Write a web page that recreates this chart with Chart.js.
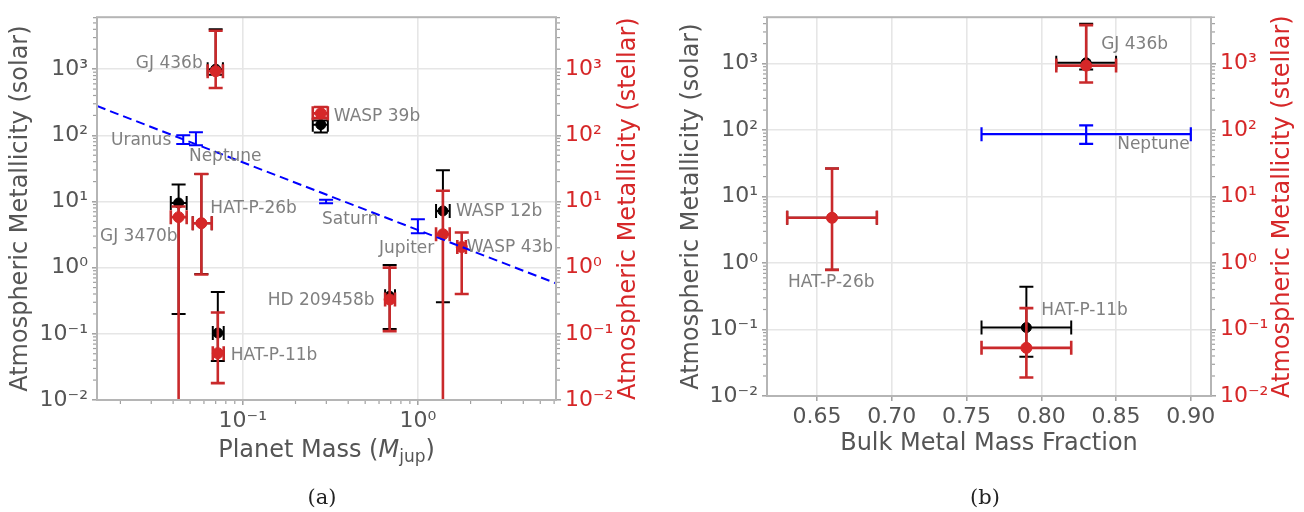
<!DOCTYPE html>
<html>
<head>
<meta charset="utf-8">
<script src="https://cdn.jsdelivr.net/npm/chart.js@4.4.0/dist/chart.umd.min.js"></script>
<style>
  html, body { margin: 0; padding: 0; background: #fff; }
  #wrap { position: relative; width: 1304px; height: 512px; }
  canvas { position: absolute; top: 0; }
  #chartA { left: 0; }
  #chartB { left: 652px; }
</style>
</head>
<body>
<div id="wrap">
  <canvas id="chartA" width="652" height="512"></canvas>
  <canvas id="chartB" width="652" height="512"></canvas>
</div>
<script>
// ---- panel (a): planet mass vs atmospheric metallicity ----
var planets     = ['GJ 436b', 'WASP 39b', 'WASP 12b', 'WASP 43b', 'HD 209458b', 'HAT-P-11b', 'GJ 3470b', 'HAT-P-26b'];
var mass        = [0.070, 0.279, 1.39, 1.78, 0.69, 0.072, 0.043, 0.058];
var massLow     = [0.063, 0.251, 1.27, 1.68, 0.65, 0.0674, 0.0388, 0.0518];
var massHigh    = [0.077, 0.306, 1.52, 1.88, 0.74, 0.0778, 0.0478, 0.0665];
var solarZ      = [1000, 145, 7.2, null, 0.37, 0.103, 9.5, 4.7];
var solarLow    = [820, 110, 0.3, null, 0.118, 0.039, 0.2, 0.8];
var solarHigh   = [4000, 168, 29.6, null, 1.1, 0.43, 18, 26];
var stellarZ    = [930, 215, 3.2, 2.05, 0.33, 0.051, 5.8, 4.7];
var stellarLow  = [520, 182, 0.001, 0.4, 0.11, 0.018, 0.001, 0.79];
var stellarHigh = [3800, 268, 14.5, 3.4, 1.0, 0.21, 8.4, 26];

var ssNames = ['Uranus', 'Neptune', 'Saturn', 'Jupiter'];
var ssMass  = [0.0457, 0.054, 0.299, 1.0];
var ssZ     = [86, 89, 10, 4.3];
var ssLow   = [74, 71, 9.4, 3.3];
var ssHigh  = [100, 111, 10.6, 5.4];

var fitMass = [0.0147, 6.15];
var fitZ    = [277, 0.58];

// ---- panel (b): bulk metal mass fraction ----
var bPlanets     = ['GJ 436b', 'HAT-P-11b', 'HAT-P-26b'];
var bulk         = [0.83, 0.79, 0.66];
var bulkLow      = [0.81, 0.76, 0.63];
var bulkHigh     = [0.85, 0.82, 0.69];
var bSolarZ      = [1030, 0.107, 4.8];
var bSolarLow    = [820, 0.039, 0.79];
var bSolarHigh   = [4000, 0.44, 26.5];
var bStellarZ    = [935, 0.053, 4.8];
var bStellarLow  = [520, 0.019, 0.79];
var bStellarHigh = [3800, 0.21, 26.5];

var nepBulk = [0.83], nepBulkLow = [0.76], nepBulkHigh = [0.90];
var nepZ = [87], nepZLow = [62], nepZHigh = [118];

var decades = [0.01, 0.1, 1, 10, 100, 1000];
var massTicks = [0.1, 1];
var bulkTicks = [0.65, 0.70, 0.75, 0.80, 0.85, 0.90];

var RED = '#d62728', GREY = '#555555', LABEL = '#808080';
Chart.defaults.font.family = 'DejaVu Sans';
Chart.defaults.animation = false;

function points(xs, xl, xh, ys, yl, yh) {
  var out = [];
  for (var i = 0; i < xs.length; i++) {
    if (ys[i] == null) continue;
    out.push({ x: xs[i], y: ys[i], xl: xl ? xl[i] : null, xh: xh ? xh[i] : null, yl: yl[i], yh: yh[i] });
  }
  return out;
}

function sup(v) {
  var e = Math.round(Math.log10(v));
  var m = { '-': '\u207B', '0': '\u2070', '1': '\u00B9', '2': '\u00B2', '3': '\u00B3' };
  return '10' + String(e).split('').map(function (c) { return m[c]; }).join('');
}

var errorBars = {
  id: 'errorBars',
  beforeDatasetDraw: function (chart, args) {
    var ds = chart.data.datasets[args.index];
    if (!ds.err) return;
    var ctx = chart.ctx, a = chart.chartArea, sx = chart.scales.x, sy = chart.scales.y;
    var cap = 7;
    ctx.save();
    ctx.beginPath();
    ctx.rect(a.left, a.top, a.right - a.left, a.bottom - a.top);
    ctx.clip();
    ctx.strokeStyle = ds.err.color;
    ctx.lineWidth = ds.err.width;
    ds.data.forEach(function (p) {
      var px = sx.getPixelForValue(p.x), py = sy.getPixelForValue(p.y);
      var y1 = sy.getPixelForValue(p.yl), y2 = sy.getPixelForValue(p.yh);
      ctx.beginPath();
      ctx.moveTo(px, y1); ctx.lineTo(px, y2);
      ctx.moveTo(px - cap, y1); ctx.lineTo(px + cap, y1);
      ctx.moveTo(px - cap, y2); ctx.lineTo(px + cap, y2);
      if (p.xl != null) {
        var x1 = sx.getPixelForValue(p.xl), x2 = sx.getPixelForValue(p.xh);
        ctx.moveTo(x1, py); ctx.lineTo(x2, py);
        ctx.moveTo(x1, py - cap); ctx.lineTo(x1, py + cap);
        ctx.moveTo(x2, py - cap); ctx.lineTo(x2, py + cap);
      }
      ctx.stroke();
    });
    ctx.restore();
  }
};

function minorTicks(ctx, scale, horizontal, side, edge) {
  var lo = Math.floor(Math.log10(scale.min)), hi = Math.ceil(Math.log10(scale.max));
  for (var d = lo; d <= hi; d++) {
    for (var k = 2; k <= 9; k++) {
      var v = k * Math.pow(10, d);
      if (v < scale.min || v > scale.max) continue;
      var p = scale.getPixelForValue(v);
      ctx.beginPath();
      if (horizontal) { ctx.moveTo(p, edge); ctx.lineTo(p, edge + 3); }
      else { ctx.moveTo(edge, p); ctx.lineTo(edge + side * 3, p); }
      ctx.stroke();
    }
  }
}

var decor = {
  id: 'decor',
  afterDatasetsDraw: function (chart) {
    var ctx = chart.ctx, a = chart.chartArea;
    ctx.save();
    ctx.strokeStyle = '#b5b5b5';
    ctx.lineWidth = 2;
    ctx.strokeRect(a.left, a.top, a.right - a.left, a.bottom - a.top);
    ctx.lineWidth = 1.2;
    ctx.strokeStyle = '#a0a0a0';
    minorTicks(ctx, chart.scales.y, false, -1, a.left - 1);
    minorTicks(ctx, chart.scales.y2, false, 1, a.right + 1);
    if (chart.scales.x.type === 'logarithmic') minorTicks(ctx, chart.scales.x, true, 1, a.bottom + 1);
    ctx.restore();
  },
  afterDraw: function (chart, args, opts) {
    var ctx = chart.ctx, a = chart.chartArea;
    var cy = (a.top + a.bottom) / 2, cx = (a.left + a.right) / 2;
    ctx.save();
    ctx.textAlign = 'center';
    ctx.textBaseline = 'middle';
    ctx.font = '24px DejaVu Sans';
    ctx.fillStyle = GREY;
    ctx.save(); ctx.translate(opts.yTitleX, cy); ctx.rotate(-Math.PI / 2);
    ctx.fillText('Atmospheric Metallicity (solar)', 0, 0); ctx.restore();
    ctx.fillStyle = RED;
    ctx.save(); ctx.translate(opts.y2TitleX, cy); ctx.rotate(-Math.PI / 2);
    ctx.fillText('Atmospheric Metallicity (stellar)', 0, 0); ctx.restore();

    // x title made of pieces (italic symbol, subscript)
    ctx.textAlign = 'left';
    ctx.textBaseline = 'alphabetic';
    ctx.fillStyle = GREY;
    var total = 0;
    opts.xTitle.forEach(function (s) { ctx.font = s.f; total += ctx.measureText(s.t).width; });
    var x = cx - total / 2;
    opts.xTitle.forEach(function (s) {
      ctx.font = s.f;
      ctx.fillText(s.t, x, opts.xTitleY + (s.dy || 0));
      x += ctx.measureText(s.t).width;
    });

    // caption
    ctx.textAlign = 'center';
    ctx.font = '21px DejaVu Serif';
    ctx.fillStyle = '#222';
    ctx.fillText(opts.caption, opts.captionX, 504);

    // point annotations
    ctx.font = '17px DejaVu Sans';
    ctx.fillStyle = LABEL;
    ctx.textBaseline = 'middle';
    opts.labels.forEach(function (l) {
      var p = chart.data.datasets[l.set].data[l.i];
      var px = chart.scales.x.getPixelForValue(p.x), py = chart.scales.y.getPixelForValue(p.y);
      ctx.textAlign = l.align;
      ctx.fillText(l.text, px + l.dx, py + l.dy);
    });
    ctx.restore();
  }
};

function yAxis(pos, min, max, width, color) {
  return {
    type: 'logarithmic', position: pos, min: min, max: max,
    afterBuildTicks: function (s) { s.ticks = decades.map(function (v) { return { value: v }; }); },
    afterFit: function (s) { s.width = width; },
    ticks: { color: color, font: { size: 22 }, padding: 4, autoSkip: false, callback: function (v) { return sup(v); } },
    grid: { color: '#e6e6e6', lineWidth: 1.6, drawOnChartArea: pos === 'left', tickLength: 5, tickColor: '#a0a0a0', tickWidth: 1.5 },
    border: { display: false }
  };
}

function errSet(label, data, color, errColor, width, radius, order) {
  return {
    label: label, data: data, order: order,
    backgroundColor: color, borderColor: color, pointRadius: radius, pointHoverRadius: radius,
    err: { color: errColor, width: width }
  };
}

// ---- chart (a) ----
var blackA = points(mass, massLow, massHigh, solarZ, solarLow, solarHigh);
var redA = points(mass, massLow, massHigh, stellarZ, stellarLow, stellarHigh);
var blueA = points(ssMass, null, null, ssZ, ssLow, ssHigh);
var fitA = fitMass.map(function (m, i) { return { x: m, y: fitZ[i] }; });

new Chart(document.getElementById('chartA'), {
  type: 'scatter',
  data: {
    datasets: [
      errSet('solar', blackA, '#000000', '#000000', 2, 5, 4),
      errSet('stellar', redA, RED, '#c9292b', 2.6, 5.5, 3),
      errSet('solar system', blueA, '#0000ff', '#0000ff', 2, 0, 2),
      { label: 'fit', data: fitA, showLine: true, borderColor: '#0000ff', borderWidth: 2,
        borderDash: [9, 5], pointRadius: 0, order: 1 }
    ]
  },
  options: {
    responsive: false,
    layout: { padding: { top: 6, left: 0, right: 0, bottom: 0 } },
    plugins: {
      legend: { display: false }, tooltip: { enabled: false },
      decor: {
        yTitleX: 21, y2TitleX: 629, xTitleY: 457, caption: '(a)', captionX: 322,
        xTitle: [
          { t: 'Planet Mass (', f: '24px DejaVu Sans' },
          { t: 'M', f: 'italic 24px DejaVu Sans' },
          { t: 'jup', f: '17px DejaVu Sans', dy: 5 },
          { t: ')', f: '24px DejaVu Sans' }
        ],
        labels: [
          { text: 'GJ 436b', set: 1, i: 0, dx: -13, dy: -8, align: 'right' },
          { text: 'WASP 39b', set: 1, i: 1, dx: 13, dy: 3, align: 'left' },
          { text: 'WASP 12b', set: 0, i: 2, dx: 13, dy: 1, align: 'left' },
          { text: 'WASP 43b', set: 1, i: 3, dx: 5, dy: 1, align: 'left' },
          { text: 'HD 209458b', set: 1, i: 4, dx: -15, dy: 1, align: 'right' },
          { text: 'HAT-P-11b', set: 1, i: 5, dx: 13, dy: 2, align: 'left' },
          { text: 'GJ 3470b', set: 1, i: 6, dx: -1, dy: 19, align: 'right' },
          { text: 'HAT-P-26b', set: 1, i: 7, dx: 9, dy: -15, align: 'left' },
          { text: 'Uranus', set: 2, i: 0, dx: -12, dy: 1, align: 'right' },
          { text: 'Neptune', set: 2, i: 1, dx: -7, dy: 18, align: 'left' },
          { text: 'Saturn', set: 2, i: 2, dx: -4, dy: 18, align: 'left' },
          { text: 'Jupiter', set: 2, i: 3, dx: -39, dy: 23, align: 'left' }
        ]
      }
    },
    scales: {
      x: {
        type: 'logarithmic', min: 0.0147, max: 6.15,
        afterBuildTicks: function (s) { s.ticks = massTicks.map(function (v) { return { value: v }; }); },
        afterFit: function (s) { s.height = 112; },
        ticks: { color: GREY, font: { size: 22 }, padding: 3, autoSkip: false, maxRotation: 0,
                 callback: function (v) { return sup(v); } },
        grid: { color: '#e6e6e6', lineWidth: 1.6, tickLength: 5, tickColor: '#a0a0a0', tickWidth: 1.5 },
        border: { display: false }
      },
      y: yAxis('left', 0.01, 6100, 97, GREY),
      y2: yAxis('right', 0.01, 6100, 96, RED)
    }
  },
  plugins: [errorBars, decor]
});

// ---- chart (b) ----
var blackB = points(bulk, bulkLow, bulkHigh, bSolarZ, bSolarLow, bSolarHigh);
var redB = points(bulk, bulkLow, bulkHigh, bStellarZ, bStellarLow, bStellarHigh);
var blueB = points(nepBulk, nepBulkLow, nepBulkHigh, nepZ, nepZLow, nepZHigh);

new Chart(document.getElementById('chartB'), {
  type: 'scatter',
  data: {
    datasets: [
      errSet('solar', blackB, '#000000', '#000000', 2, 5, 4),
      errSet('stellar', redB, RED, '#c9292b', 2.6, 5.5, 3),
      errSet('Neptune', blueB, '#0000ff', '#0000ff', 2.2, 0, 2)
    ]
  },
  options: {
    responsive: false,
    layout: { padding: { top: 8, left: 0, right: 0, bottom: 0 } },
    plugins: {
      legend: { display: false }, tooltip: { enabled: false },
      decor: {
        yTitleX: 40, y2TitleX: 631, xTitleY: 450, caption: '(b)', captionX: 333,
        xTitle: [{ t: 'Bulk Metal Mass Fraction', f: '24px DejaVu Sans' }],
        labels: [
          { text: 'GJ 436b', set: 1, i: 0, dx: 15, dy: -21, align: 'left' },
          { text: 'HAT-P-11b', set: 0, i: 1, dx: 15, dy: -17, align: 'left' },
          { text: 'HAT-P-26b', set: 1, i: 2, dx: -44, dy: 65, align: 'left' },
          { text: 'Neptune', set: 2, i: 0, dx: 31, dy: 10, align: 'left' }
        ]
      }
    },
    scales: {
      x: {
        type: 'linear', min: 0.6165, max: 0.9135,
        afterBuildTicks: function (s) { s.ticks = bulkTicks.map(function (v) { return { value: v }; }); },
        afterFit: function (s) { s.height = 116; },
        ticks: { color: GREY, font: { size: 22 }, padding: 3, autoSkip: false, maxRotation: 0,
                 callback: function (v) { return v.toFixed(2); } },
        grid: { color: '#e6e6e6', lineWidth: 1.6, tickLength: 5, tickColor: '#a0a0a0', tickWidth: 1.5 },
        border: { display: false }
      },
      y: yAxis('left', 0.01, 5000, 115, GREY),
      y2: yAxis('right', 0.01, 5000, 93, RED)
    }
  },
  plugins: [errorBars, decor]
});
</script>
</body>
</html>
